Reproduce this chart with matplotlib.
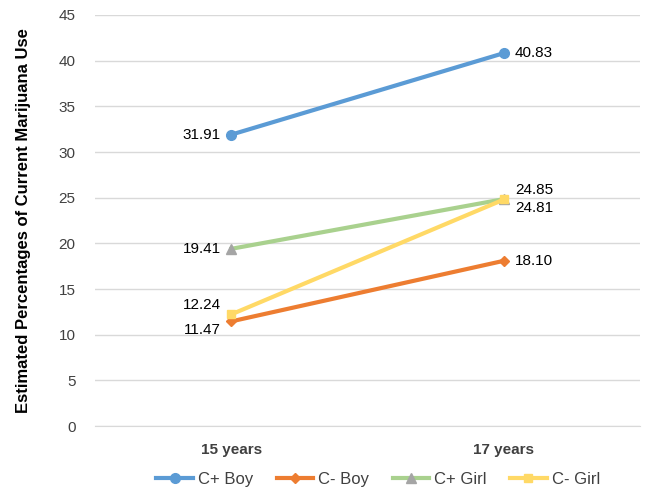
import matplotlib.pyplot as plt
import numpy as np

categories = ['15 years', '17 years']
cplus_boy = [31.91, 40.83]
cminus_boy = [11.47, 18.10]
cplus_girl = [19.41, 24.85]
cminus_girl = [12.24, 24.81]

plt.rcParams['font.family'] = ['Liberation Sans', 'DejaVu Sans']

fig = plt.figure(figsize=(6.52, 4.99), dpi=100)
ax = fig.add_axes([0.146, 0.146, 0.836, 0.824])

x = np.arange(len(categories))

ax.plot(x, cplus_boy, color='#5B9BD5', lw=3, marker='o', ms=7, label='C+ Boy', zorder=3)
ax.plot(x, cminus_boy, color='#ED7D31', lw=3, marker='D', ms=5, label='C- Boy', zorder=3)
ax.plot(x, cplus_girl, color='#A9D18E', lw=3, marker='^', ms=7,
        mfc='#A5A5A5', mec='#A5A5A5', label='C+ Girl', zorder=3)
ax.plot(x, cminus_girl, color='#FFD966', lw=3, marker='s', ms=6, label='C- Girl', zorder=3)

fs = 11
# left-side labels
ax.text(x[0] - 0.04, cplus_boy[0], f'{cplus_boy[0]:.2f}', ha='right', va='center', fontsize=fs)
ax.text(x[0] - 0.04, cplus_girl[0], f'{cplus_girl[0]:.2f}', ha='right', va='center', fontsize=fs)
ax.text(x[0] - 0.04, cminus_girl[0] + 0.2, f'{cminus_girl[0]:.2f}', ha='right', va='bottom', fontsize=fs)
ax.text(x[0] - 0.04, cminus_boy[0] - 0.2, f'{cminus_boy[0]:.2f}', ha='right', va='top', fontsize=fs)
# right-side labels
ax.text(x[1] + 0.04, cplus_boy[1], f'{cplus_boy[1]:.2f}', ha='left', va='center', fontsize=fs)
ax.text(x[1] + 0.04, cminus_boy[1], f'{cminus_boy[1]:.2f}', ha='left', va='center', fontsize=fs)
ax.text(x[1] + 0.04, cplus_girl[1] + 0.2, f'{cplus_girl[1]:.2f}', ha='left', va='bottom', fontsize=fs)
ax.text(x[1] + 0.04, cminus_girl[1] - 0.2, f'{cminus_girl[1]:.2f}', ha='left', va='top', fontsize=fs)

ax.set_xlim(-0.5, 1.5)
ax.set_ylim(0, 45)
ax.set_yticks(np.arange(0, 46, 5))
ax.set_xticks(x)
ax.set_xticklabels(categories, fontsize=11, fontweight='bold', color='#404040')
ax.tick_params(axis='y', labelsize=11, colors='#404040', length=0, pad=14)
ax.tick_params(axis='x', length=0, pad=12)
ax.grid(axis='y', color='#D9D9D9', lw=1)
ax.set_axisbelow(True)
for s in ['top', 'right', 'left']:
    ax.spines[s].set_visible(False)
ax.spines['bottom'].set_color('#D9D9D9')

ax.set_ylabel('Estimated Percentages of Current Marijuana Use', fontsize=12,
              fontweight='bold', labelpad=20)

fig.legend(loc='center', bbox_to_anchor=(0.58, 0.04), ncol=4, frameon=False,
           fontsize=12, handlelength=2.2, handletextpad=0.3, columnspacing=1.4,
           labelcolor='#404040')

fig.savefig('out.png', dpi=100)
